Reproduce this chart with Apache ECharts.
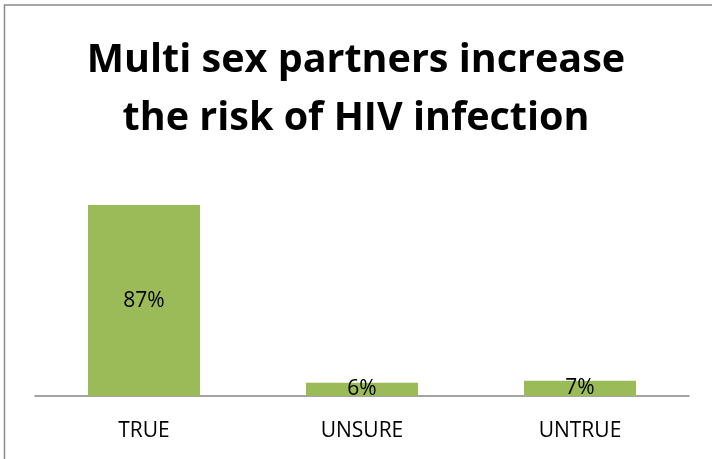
<!DOCTYPE html>
<html>
<head>
<meta charset="utf-8">
<script src="https://cdn.jsdelivr.net/npm/echarts@6/dist/echarts.min.js"></script>
<style>
html,body{margin:0;padding:0;background:#fff;}
#c{width:712px;height:459px;}
</style>
</head>
<body>
<div id="c"></div>
<script>
const titleText = "Multi sex partners increase\nthe risk of HIV infection";
const categories = ["TRUE", "UNSURE", "UNTRUE"];
const values = [87, 6, 7];

const chart = echarts.init(document.getElementById('c'), null, {renderer: 'canvas'});
chart.setOption({
  backgroundColor: '#ffffff',
  animation: false,
  title: {
    text: titleText,
    left: 'center',
    top: 27,
    textStyle: {
      fontFamily: 'Open Sans',
      fontWeight: 'bold',
      fontSize: 39.5,
      lineHeight: 58,
      color: '#000000'
    }
  },
  graphic: [{
    type: 'rect',
    shape: {x: 4.5, y: 5, width: 760, height: 520},
    style: {fill: 'none', stroke: '#8c8c8c', lineWidth: 1.5},
    silent: true
  }],
  grid: {left: 35, right: 23, top: 176.5, bottom: 63, containLabel: false},
  xAxis: {
    type: 'category',
    data: categories,
    axisLine: {show: true, lineStyle: {color: '#868686', width: 1.5}},
    axisTick: {show: false},
    axisLabel: {
      margin: 25,
      fontFamily: 'Open Sans',
      fontSize: 21,
      color: '#000000'
    }
  },
  yAxis: {
    type: 'value',
    min: 0,
    max: 100,
    show: false,
    splitLine: {show: false}
  },
  series: [{
    type: 'bar',
    data: values,
    barCategoryGap: '48.6%',
    itemStyle: {color: '#9bbb59'},
    label: {
      show: true,
      position: 'inside',
      formatter: '{c}%',
      fontFamily: 'Open Sans',
      fontSize: 21,
      color: '#000000'
    }
  }]
});
</script>
</body>
</html>
